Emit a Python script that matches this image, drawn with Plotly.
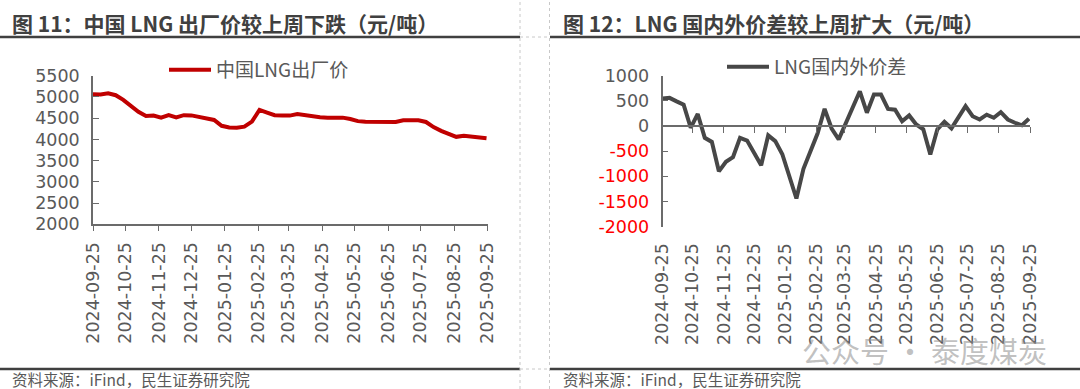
import pandas as pd
import plotly.graph_objects as go

# ---------------- data ----------------
dates = pd.date_range("2024-09-25", periods=53, freq="7D")
month_ticks = ["2024-09-25", "2024-10-25", "2024-11-25", "2024-12-25", "2025-01-25",
               "2025-02-25", "2025-03-25", "2025-04-25", "2025-05-25", "2025-06-25",
               "2025-07-25", "2025-08-25", "2025-09-25"]

lng_price = [5064, 5060, 5085, 5040, 4930, 4785, 4650, 4550, 4560, 4510,
             4570, 4520, 4570, 4565, 4530, 4480, 4458, 4320, 4280, 4276,
             4300, 4420, 4693, 4630, 4570, 4565, 4560, 4595, 4565, 4552,
             4522, 4512, 4512, 4512, 4480, 4430, 4417, 4417, 4408, 4403,
             4410, 4450, 4450, 4450, 4410, 4290, 4200, 4130, 4060, 4085,
             4065, 4040, 4026]

lng_spread = [545, 560, 490, 425, -35, 240, -235, -315, -900, -710,
              -620, -235, -290, -535, -780, -185, -300, -560, -1000, -1440,
              -850, -520, -150, 340, -50, -265, 65, 395, 690, 265,
              625, 625, 340, 325, 95, 210, 30, -65, -565, -65,
              85, -45, 165, 395, 195, 130, 225, 165, 275, 130,
              65, 15, 145]

left_yticks = [2000, 2500, 3000, 3500, 4000, 4500, 5000, 5500]
right_yticks = [1000, 500, 0, -500, -1000, -1500, -2000]

title_left = "图 11：中国 LNG 出厂价较上周下跌（元/吨）"
title_right = "图 12：LNG 国内外价差较上周扩大（元/吨）"
source_text = "资料来源：iFind，民生证券研究院"
name_left = "中国LNG出厂价"
name_right = "LNG国内外价差"
watermark = "公众号 · 泰度煤炭"

# ---------------- helpers (pixel -> paper) ----------------
W, H = 1080, 389
def fx(p):
    return p / W
def fy(p):
    return 1 - p / H

CJK = "Noto Sans CJK SC"
NUM = "DejaVu Sans"
TXT = "#595959"
AX = "#6b6b6b"

right_ticktext = [
    (f'<span style="color:#FF0000">{v}</span>' if v < 0 else str(v)) for v in right_yticks
]

fig = go.Figure()
fig.add_trace(go.Scatter(x=dates, y=lng_price, mode="lines", name=name_left,
                         line=dict(color="#C00000", width=4), xaxis="x", yaxis="y",
                         legend="legend"))
fig.add_trace(go.Scatter(x=dates, y=lng_spread, mode="lines", name=name_right,
                         line=dict(color="#474747", width=4), xaxis="x2", yaxis="y2",
                         legend="legend2"))
# helper trace so the zero-line axis exists
fig.add_trace(go.Scatter(x=[dates[0]], y=[0], mode="markers", marker=dict(opacity=0),
                         showlegend=False, hoverinfo="skip", xaxis="x3", yaxis="y2"))

xr = ["2024-09-25", "2025-09-25"]
ydom_l = [fy(224.3), fy(75.7)]
ydom_r = [fy(226.7), fy(75.7)]
zero_pos = ydom_r[0] + (0 - (-2000)) / 3000 * (ydom_r[1] - ydom_r[0])

tickfont = dict(family=NUM, size=17.5, color=TXT)

fig.update_layout(
    width=W, height=H,
    margin=dict(l=0, r=0, t=0, b=0, pad=0, autoexpand=False),
    paper_bgcolor="white", plot_bgcolor="rgba(0,0,0,0)",
    font=dict(family=CJK, color=TXT),
    xaxis=dict(domain=[fx(93), fx(487.6)], anchor="y", type="date", range=xr,
               tickvals=month_ticks, tickformat="%Y-%m-%d", tickangle=-90,
               ticks="outside", ticklen=5, tickcolor=AX, tickwidth=1.3,
               showline=True, linecolor=AX, linewidth=1.5, showgrid=False,
               zeroline=False, tickfont=tickfont, ticklabelstandoff=4, automargin=False),
    yaxis=dict(domain=ydom_l, anchor="x", range=[2000, 5500], tickvals=left_yticks,
               ticks="inside", ticklen=6, tickcolor=AX, tickwidth=1.3,
               showline=True, linecolor=AX, linewidth=1.5, showgrid=False,
               zeroline=False, tickfont=tickfont, ticklabelstandoff=8, automargin=False),
    xaxis2=dict(domain=[fx(662.5), fx(1030)], anchor="y2", type="date", range=xr,
                tickvals=month_ticks, tickformat="%Y-%m-%d", tickangle=-90,
                ticks="", showline=False, showgrid=False, zeroline=False,
                tickfont=tickfont, ticklabelstandoff=12, automargin=False),
    xaxis3=dict(domain=[fx(662.5), fx(1030)], overlaying="x2", anchor="free",
                position=zero_pos, type="date", range=xr, tickvals=month_ticks,
                ticks="outside", ticklen=6, tickcolor=AX, tickwidth=1.3,
                showline=True, linecolor=AX, linewidth=1.5, showgrid=False,
                zeroline=False, showticklabels=False, automargin=False),
    yaxis2=dict(domain=ydom_r, anchor="x2", range=[-2000, 1000], tickvals=right_yticks,
                ticktext=right_ticktext, ticks="inside", ticklen=6, tickcolor=AX,
                tickwidth=1.3, showline=True, linecolor=AX, linewidth=1.5,
                showgrid=False, zeroline=False, tickfont=tickfont, ticklabelstandoff=8,
                automargin=False),
    legend=dict(x=fx(164), y=fy(70), xanchor="left", yanchor="middle",
                bgcolor="rgba(0,0,0,0)", font=dict(family=CJK, size=19, color=TXT),
                itemwidth=42),
    legend2=dict(x=fx(722), y=fy(67), xanchor="left", yanchor="middle",
                 bgcolor="rgba(0,0,0,0)", font=dict(family=CJK, size=19, color=TXT),
                 itemwidth=42),
    showlegend=True,
)

# titles
for x0, t in [(10, title_left), (561, title_right)]:
    fig.add_annotation(x=fx(x0), y=fy(23), xref="paper", yref="paper", text=f"<b>{t}</b>",
                       showarrow=False, xanchor="left", yanchor="middle",
                       font=dict(family=CJK, size=21, color="#404040"))
# sources
for x0 in [10, 561]:
    fig.add_annotation(x=fx(x0), y=fy(379), xref="paper", yref="paper", text=source_text,
                       showarrow=False, xanchor="left", yanchor="middle",
                       font=dict(family=CJK, size=15.5, color=TXT))
# watermark
fig.add_annotation(x=fx(924), y=fy(350), xref="paper", yref="paper", text=watermark,
                   showarrow=False, xanchor="center", yanchor="middle",
                   font=dict(family=CJK, size=29, color="rgba(140,140,140,0.55)"))

# frame lines
shapes = []
for a, b in [(0, 520), (550, 1080)]:
    for yy in (37, 369):
        shapes.append(dict(type="line", xref="paper", yref="paper", x0=fx(a), x1=fx(b),
                           y0=fy(yy), y1=fy(yy), line=dict(color="#404040", width=2.5)))
for yy in (37, 369):
    shapes.append(dict(type="line", xref="paper", yref="paper", x0=fx(520), x1=fx(550),
                       y0=fy(yy), y1=fy(yy), line=dict(color="#c8c8c8", width=1, dash="dot")))
for xx in (520, 549.5):
    shapes.append(dict(type="line", xref="paper", yref="paper", x0=fx(xx), x1=fx(xx),
                       y0=0, y1=1, line=dict(color="#c8c8c8", width=1, dash="dot")))
fig.update_layout(shapes=shapes)

fig.write_html("out.html", config={"responsive": False, "displayModeBar": False},
               post_script="document.body.style.margin='0';document.body.style.overflow='hidden';")
